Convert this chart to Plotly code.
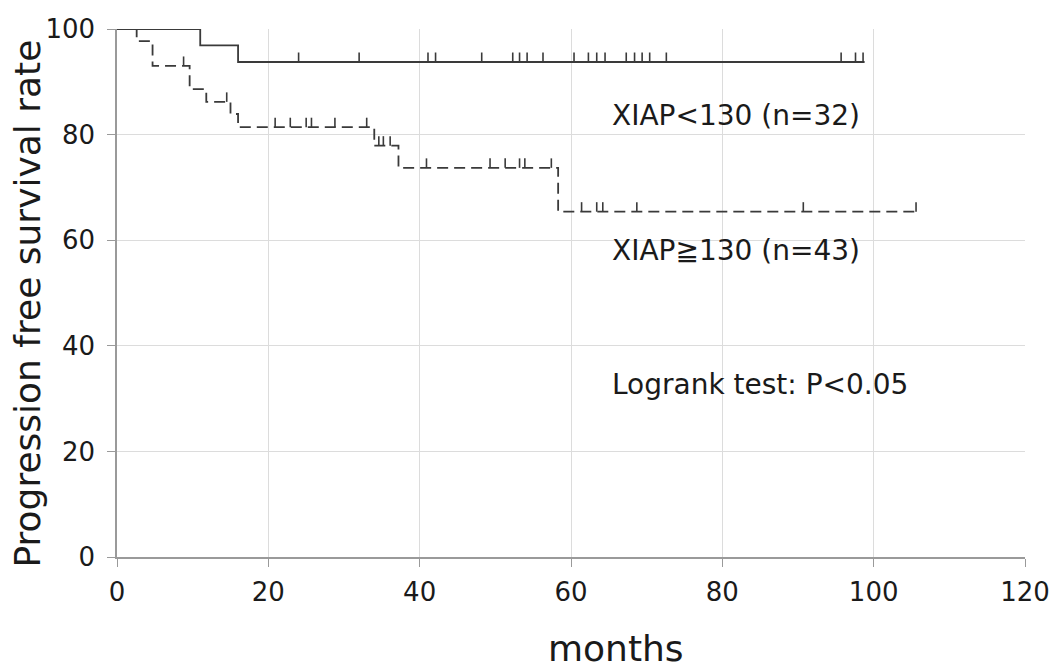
import plotly.graph_objects as go

# ---- data ----
solid_event_t = [11.0, 16.0]
solid_event_s = [96.9, 93.75]
solid_end_t = 98.8
solid_censor_t = [24.0, 32.0, 41.1, 42.1, 48.2, 52.3, 53.2, 54.2, 56.3, 60.4, 62.3, 63.4,
                  64.5, 67.3, 68.4, 69.4, 70.4, 72.6, 95.7, 97.6, 98.6]

dashed_event_t = [2.6, 4.7, 9.6, 11.8, 15.0, 16.0, 34.0, 37.2, 58.3]
dashed_event_s = [97.7, 93.0, 88.6, 86.2, 83.9, 81.4, 77.9, 73.7, 65.4]
dashed_end_t = 105.8
dashed_censor_t = [8.8, 14.5, 20.9, 22.9, 25.0, 25.7, 28.8, 33.0, 34.6, 35.2, 36.1, 40.9,
                   49.3, 51.3, 53.2, 53.9, 57.4, 61.4, 63.4, 64.2, 68.7, 90.7, 105.6]

x_ticks = [0, 20, 40, 60, 80, 100, 120]
y_ticks = [0, 20, 40, 60, 80, 100]
label_lo = "XIAP<130 (n=32)"
label_hi = "XIAP≧130 (n=43)"
label_test = "Logrank test: P<0.05"
x_title = "months"
y_title = "Progression free survival rate"

FONT = "DejaVu Sans"
LINE = "#3a3a3a"
TICK_H = 1.8


def step_xy(ev_t, ev_s, end_t):
    xs = [0.0] + list(ev_t) + [end_t]
    ys = [100.0] + list(ev_s) + [ev_s[-1]]
    return xs, ys


def level_at(t, ev_t, ev_s):
    s = 100.0
    for et, es in zip(ev_t, ev_s):
        if t >= et:
            s = es
    return s


def censor_xy(ct, ev_t, ev_s):
    xs, ys = [], []
    for t in ct:
        s = level_at(t, ev_t, ev_s)
        xs += [t, t, None]
        ys += [s, s + TICK_H, None]
    return xs, ys


fig = go.Figure()

sx, sy = step_xy(solid_event_t, solid_event_s, solid_end_t)
fig.add_trace(go.Scatter(x=sx, y=sy, mode="lines", line=dict(shape="hv", color=LINE, width=1.8),
                         cliponaxis=False, showlegend=False, hoverinfo="skip"))
cx, cy = censor_xy(solid_censor_t, solid_event_t, solid_event_s)
fig.add_trace(go.Scatter(x=cx, y=cy, mode="lines", line=dict(color=LINE, width=1.6),
                         cliponaxis=False, showlegend=False, hoverinfo="skip"))

dx, dy = step_xy(dashed_event_t, dashed_event_s, dashed_end_t)
fig.add_trace(go.Scatter(x=dx, y=dy, mode="lines",
                         line=dict(shape="hv", color=LINE, width=1.8, dash="11px,6px"),
                         cliponaxis=False, showlegend=False, hoverinfo="skip"))
cx2, cy2 = censor_xy(dashed_censor_t, dashed_event_t, dashed_event_s)
fig.add_trace(go.Scatter(x=cx2, y=cy2, mode="lines", line=dict(color=LINE, width=1.6),
                         cliponaxis=False, showlegend=False, hoverinfo="skip"))

ann_font = dict(family=FONT, size=28, color="#1a1a1a")
fig.add_annotation(x=0.543, y=0.837, xref="paper", yref="paper", text=label_lo,
                   showarrow=False, xanchor="left", yanchor="middle", font=ann_font)
fig.add_annotation(x=0.543, y=0.581, xref="paper", yref="paper", text=label_hi,
                   showarrow=False, xanchor="left", yanchor="middle", font=ann_font)
fig.add_annotation(x=0.543, y=0.326, xref="paper", yref="paper", text=label_test,
                   showarrow=False, xanchor="left", yanchor="middle", font=ann_font)

# axis titles as annotations
fig.add_annotation(x=-0.098, y=0.48, xref="paper", yref="paper", text=y_title, textangle=-90,
                   showarrow=False, xanchor="center", yanchor="middle",
                   font=dict(family=FONT, size=36, color="#1a1a1a"))
fig.add_annotation(x=0.55, y=-0.174, xref="paper", yref="paper", text=x_title,
                   showarrow=False, xanchor="center", yanchor="middle",
                   font=dict(family=FONT, size=36, color="#1a1a1a"))

# the page body adds an 8px margin, so the figure is sized/placed to compensate
fig.update_layout(
    width=1051, height=663,
    margin=dict(l=109, r=34, t=21, b=114, autoexpand=False),
    paper_bgcolor="white", plot_bgcolor="white",
    font=dict(family=FONT, color="#1a1a1a"),
    xaxis=dict(range=[0, 120], tickvals=x_ticks, showgrid=True, gridcolor="#dcdcdc", gridwidth=1,
               showline=True, linecolor="#9a9a9a", linewidth=1.5, ticks="outside", ticklen=8,
               tickcolor="#9a9a9a", tickfont=dict(size=26), ticklabelstandoff=3, zeroline=False,
               automargin=False),
    yaxis=dict(range=[0, 100], tickvals=y_ticks, showgrid=True, gridcolor="#dcdcdc", gridwidth=1,
               showline=True, linecolor="#9a9a9a", linewidth=1.5, ticks="outside", ticklen=8,
               tickcolor="#9a9a9a", tickfont=dict(size=26), ticklabelstandoff=7, zeroline=False,
               automargin=False),
)

fig.write_html("out.html")
